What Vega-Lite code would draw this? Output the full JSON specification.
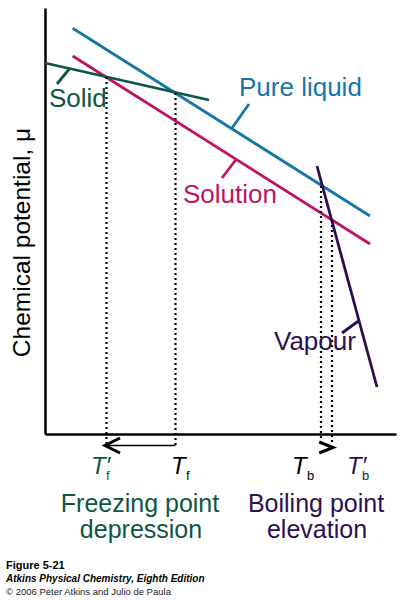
{
  "$schema": "https://vega.github.io/schema/vega-lite/v6.json",
  "width": 351,
  "height": 426,
  "autosize": {"type": "none"},
  "padding": {"left": 45, "top": 8, "right": 11, "bottom": 166},
  "background": "white",
  "config": {"view": {"stroke": null}, "font": "Liberation Sans"},
  "layer": [
    {
      "data": {"values": [
        {"id": "liquid", "series": "liquid", "x": 27.7, "y": 405.7},
        {"id": "liquid", "series": "liquid", "x": 325, "y": 218},
        {"id": "solution", "series": "solution", "x": 27.7, "y": 378},
        {"id": "solution", "series": "solution", "x": 325, "y": 190},
        {"id": "solid", "series": "solid", "x": 0, "y": 371},
        {"id": "solid", "series": "solid", "x": 164, "y": 334},
        {"id": "vapour", "series": "vapour", "x": 272, "y": 268},
        {"id": "vapour", "series": "vapour", "x": 332, "y": 47},
        {"id": "tick-solid", "series": "solid", "x": 25, "y": 366},
        {"id": "tick-solid", "series": "solid", "x": 12, "y": 350},
        {"id": "tick-liquid", "series": "liquid", "x": 187, "y": 306},
        {"id": "tick-liquid", "series": "liquid", "x": 204, "y": 330},
        {"id": "tick-solution", "series": "solution", "x": 191, "y": 274.5},
        {"id": "tick-solution", "series": "solution", "x": 177, "y": 256},
        {"id": "tick-vapour", "series": "vapour", "x": 313.5, "y": 113},
        {"id": "tick-vapour", "series": "vapour", "x": 297, "y": 101}
      ]},
      "mark": {"type": "line", "strokeWidth": 2.8},
      "encoding": {
        "x": {"field": "x", "type": "quantitative", "scale": {"domain": [0, 351], "nice": false, "zero": false},
          "axis": {"title": null, "labels": false, "ticks": false, "grid": false, "domainColor": "black", "domainWidth": 2.5}},
        "y": {"field": "y", "type": "quantitative", "scale": {"domain": [0, 426], "nice": false, "zero": false},
          "axis": {"title": "Chemical potential, μ", "titleFontSize": 24.5, "titleFontWeight": "normal", "titleFont": "Liberation Sans", "titleColor": "black", "titleX": -16, "titleY": 234, "titleAngle": -90, "titleAlign": "center", "titleBaseline": "alphabetic", "labels": false, "ticks": false, "grid": false, "domainColor": "black", "domainWidth": 2.5}},
        "color": {"field": "series", "type": "nominal", "scale": {"domain": ["liquid", "solution", "solid", "vapour", "black"], "range": ["#1776a8", "#be1464", "#0f5546", "#2d0f50", "#000000"]}, "legend": null},
        "detail": {"field": "id"}
      }
    },
    {
      "data": {"values": [
        {"x": 61.5, "y": 357, "y2": -12},
        {"x": 130.5, "y": 341, "y2": -12},
        {"x": 276, "y": 248, "y2": -10},
        {"x": 287, "y": 214, "y2": -10}
      ]},
      "mark": {"type": "rule", "strokeDash": [2, 3], "strokeWidth": 2.2, "color": "black"},
      "encoding": {
        "x": {"field": "x", "type": "quantitative"},
        "y": {"field": "y", "type": "quantitative"},
        "y2": {"field": "y2"}
      }
    },
    {
      "data": {"values": [{"x": 62, "x2": 130.5, "y": -11.5}]},
      "mark": {"type": "rule", "strokeWidth": 1.5, "color": "black"},
      "encoding": {
        "x": {"field": "x", "type": "quantitative"},
        "x2": {"field": "x2"},
        "y": {"field": "y", "type": "quantitative"}
      }
    },
    {
      "data": {"values": [{"x": 60, "y": -11.5}]},
      "mark": {"type": "point", "shape": "M2,-1L0,0L2,1", "size": 225, "filled": false, "strokeWidth": 3, "color": "black", "opacity": 1, "strokeJoin": "miter"},
      "encoding": {
        "x": {"field": "x", "type": "quantitative"},
        "y": {"field": "y", "type": "quantitative"}
      }
    },
    {
      "data": {"values": [{"x": 288, "y": -13.5}]},
      "mark": {"type": "point", "shape": "M-2.5,-1L0,0L-2.5,1", "size": 121, "filled": false, "strokeWidth": 3, "color": "black", "opacity": 1, "strokeJoin": "miter"},
      "encoding": {
        "x": {"field": "x", "type": "quantitative"},
        "y": {"field": "y", "type": "quantitative"}
      }
    },
    {
      "data": {"values": [
        {"text": "Pure liquid", "series": "liquid", "x": 194, "y": 338},
        {"text": "Solid", "series": "solid", "x": 4, "y": 327},
        {"text": "Solution", "series": "solution", "x": 138, "y": 231},
        {"text": "Vapour", "series": "vapour", "x": 229, "y": 84}
      ]},
      "mark": {"type": "text", "fontSize": 26, "align": "left", "baseline": "alphabetic", "font": "Liberation Sans"},
      "encoding": {
        "x": {"field": "x", "type": "quantitative"},
        "y": {"field": "y", "type": "quantitative"},
        "text": {"field": "text"},
        "color": {"field": "series", "type": "nominal", "legend": null}
      }
    },
    {
      "data": {"values": [
        {"text": "Freezing point", "series": "solid", "x": 95, "y": -78},
        {"text": "depression", "series": "solid", "x": 96, "y": -104},
        {"text": "Boiling point", "series": "vapour", "x": 271, "y": -78},
        {"text": "elevation", "series": "vapour", "x": 272, "y": -104}
      ]},
      "mark": {"type": "text", "fontSize": 25, "align": "center", "baseline": "alphabetic", "font": "Liberation Sans"},
      "encoding": {
        "x": {"field": "x", "type": "quantitative"},
        "y": {"field": "y", "type": "quantitative"},
        "text": {"field": "text"},
        "color": {"field": "series", "type": "nominal", "legend": null}
      }
    },
    {
      "data": {"values": [
        {"text": "T′", "series": "solid", "x": 46, "y": -40},
        {"text": "T", "series": "black", "x": 126, "y": -40},
        {"text": "T", "series": "black", "x": 247, "y": -40},
        {"text": "T′", "series": "vapour", "x": 302, "y": -40}
      ]},
      "mark": {"type": "text", "fontSize": 24, "fontStyle": "italic", "align": "left", "baseline": "alphabetic", "font": "Liberation Sans"},
      "encoding": {
        "x": {"field": "x", "type": "quantitative"},
        "y": {"field": "y", "type": "quantitative"},
        "text": {"field": "text"},
        "color": {"field": "series", "type": "nominal", "legend": null}
      }
    },
    {
      "data": {"values": [
        {"text": "f", "series": "solid", "x": 61, "y": -46},
        {"text": "f", "series": "black", "x": 141, "y": -46},
        {"text": "b", "series": "black", "x": 262, "y": -46},
        {"text": "b", "series": "vapour", "x": 317, "y": -46}
      ]},
      "mark": {"type": "text", "fontSize": 13, "align": "left", "baseline": "alphabetic", "font": "Liberation Sans"},
      "encoding": {
        "x": {"field": "x", "type": "quantitative"},
        "y": {"field": "y", "type": "quantitative"},
        "text": {"field": "text"},
        "color": {"field": "series", "type": "nominal", "legend": null}
      }
    },
    {
      "data": {"values": [{"text": "Figure 5-21", "x": -39, "y": -135}]},
      "mark": {"type": "text", "fontSize": 11, "fontWeight": "bold", "align": "left", "baseline": "alphabetic", "font": "Liberation Sans", "color": "black"},
      "encoding": {
        "x": {"field": "x", "type": "quantitative"},
        "y": {"field": "y", "type": "quantitative"},
        "text": {"field": "text"}
      }
    },
    {
      "data": {"values": [{"text": "Atkins Physical Chemistry, Eighth Edition", "x": -39, "y": -148}]},
      "mark": {"type": "text", "fontSize": 10, "fontWeight": "bold", "fontStyle": "italic", "align": "left", "baseline": "alphabetic", "font": "Liberation Sans", "color": "black"},
      "encoding": {
        "x": {"field": "x", "type": "quantitative"},
        "y": {"field": "y", "type": "quantitative"},
        "text": {"field": "text"}
      }
    },
    {
      "data": {"values": [{"text": "© 2006 Peter Atkins and Julio de Paula", "x": -39, "y": -161}]},
      "mark": {"type": "text", "fontSize": 9.5, "align": "left", "baseline": "alphabetic", "font": "Liberation Sans", "color": "#222222"},
      "encoding": {
        "x": {"field": "x", "type": "quantitative"},
        "y": {"field": "y", "type": "quantitative"},
        "text": {"field": "text"}
      }
    }
  ]
}
